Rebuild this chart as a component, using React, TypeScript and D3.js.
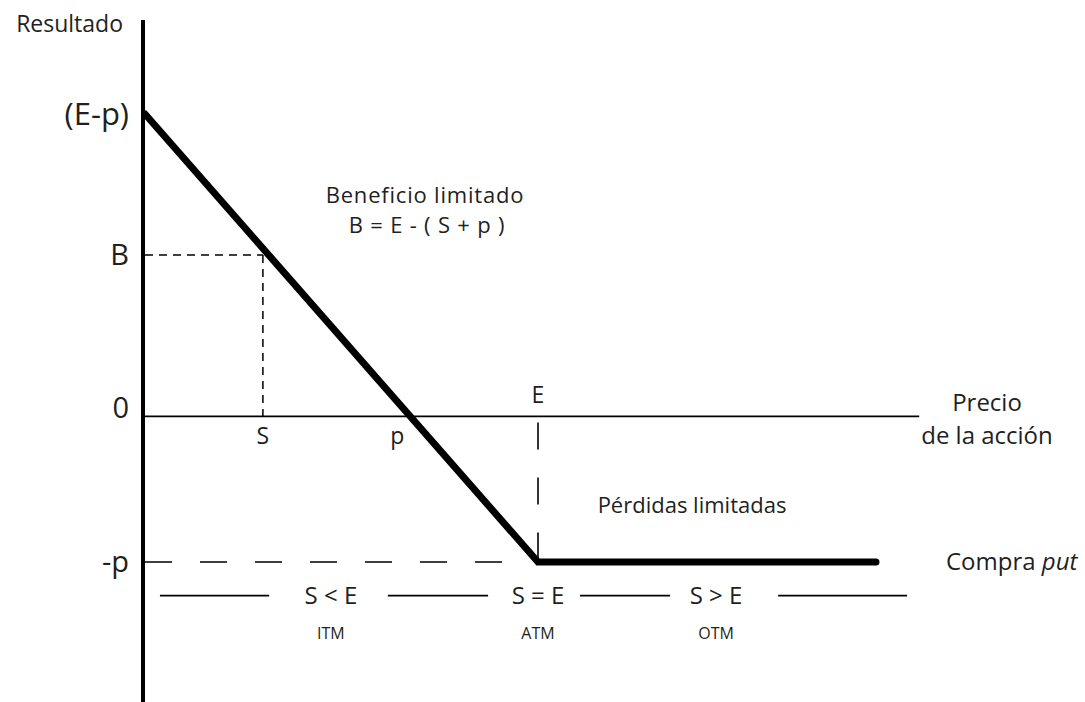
import React from 'react';
import * as d3 from 'd3';

// payoff of a long put, in abstract units (E = strike, p = premium)
const strike = 10;
const premium = 3.25;
const spotExample = 3.0;
const profitExample = 3.6;
const payoffEnd = 18.6;
const priceAxisEnd = 19.7;
const resultAxisTop = 8.85;
const resultAxisBottom = -6.4;

const yTickLabels = ['(E-p)', 'B', '0', '-p'];
const yTickValues = [strike - premium, profitExample, 0, -premium];

// row of moneyness regions below the chart
const regionLabels = ['S < E', 'S = E', 'S > E'];
const regionSubLabels = ['ITM', 'ATM', 'OTM'];
const regionCenters = [4.73, 10, 14.53];
const regionSegments = [[0.38, 3.16], [6.18, 8.73], [11.07, 13.36], [16.11, 19.39]];
const regionRowValue = -4.0;
const regionSubValue = -4.85;

const font = "'Open Sans', sans-serif";
const ink = '#231f20';

export default function App() {
  const width = 1085;
  const height = 702;

  const x = d3.scaleLinear().domain([0, strike]).range([145, 538]);
  const y = d3.scaleLinear().domain([-premium, strike - premium]).range([562, 114]);

  const payoff: [number, number][] = [
    [0, strike - premium],
    [strike, -premium],
    [payoffEnd, -premium],
  ];
  const line = d3.line<[number, number]>().x(d => x(d[0])).y(d => y(d[1]));

  const breakEven = strike - premium;

  return (
    <svg width={width} height={height} style={{ position: 'absolute', left: 0, top: 0, background: '#fff' }}>
      <rect width={width} height={height} fill="#fff" />

      {/* axes */}
      <line x1={x(0) - 2} x2={x(0) - 2} y1={y(resultAxisTop)} y2={y(resultAxisBottom)} stroke="#000" strokeWidth={4} />
      <line x1={x(0)} x2={x(priceAxisEnd)} y1={y(0)} y2={y(0)} stroke="#000" strokeWidth={1.6} />

      <text x={123} y={32} textAnchor="end" fontFamily={font} fontSize={23} fill={ink}>Resultado</text>

      {yTickLabels.map((t, i) => (
        <text key={t} x={129} y={y(yTickValues[i]) + (t === '0' ? -9 : 0)} dy="0.35em" textAnchor="end"
          fontFamily={font} fontSize={t === '(E-p)' ? 31 : 29} fill={ink}>{t}</text>
      ))}

      {/* guide lines */}
      <line x1={x(0)} x2={x(spotExample)} y1={y(profitExample)} y2={y(profitExample)} stroke="#000" strokeWidth={1.5} strokeDasharray="8,6" />
      <line x1={x(spotExample)} x2={x(spotExample)} y1={y(profitExample)} y2={y(0)} stroke="#000" strokeWidth={1.5} strokeDasharray="8,6" />
      <line x1={x(0)} x2={x(strike) - 34} y1={y(-premium)} y2={y(-premium)} stroke="#000" strokeWidth={1.6} strokeDasharray="27,28" />
      <line x1={x(strike)} x2={x(strike)} y1={y(0) + 6} y2={y(-premium)} stroke="#000" strokeWidth={1.6} strokeDasharray="27,28" />

      {/* payoff */}
      <path d={line(payoff) ?? ''} fill="none" stroke="#000" strokeWidth={7} strokeLinecap="round" strokeLinejoin="miter" />

      {/* price axis labels */}
      <text x={x(spotExample)} y={y(0) + 20} dy="0.35em" textAnchor="middle" fontFamily={font} fontSize={23} fill={ink}>S</text>
      <text x={x(breakEven) - 13} y={y(0) + 20} dy="0.35em" textAnchor="middle" fontFamily={font} fontSize={23} fill={ink}>p</text>
      <text x={x(strike)} y={y(0) - 21} dy="0.35em" textAnchor="middle" fontFamily={font} fontSize={23} fill={ink}>E</text>

      <text x={987} y={411} textAnchor="middle" fontFamily={font} fontSize={24} fill={ink}>Precio</text>
      <text x={987} y={444} textAnchor="middle" fontFamily={font} fontSize={24} fill={ink}>de la acción</text>
      <text x={946} y={y(-premium)} dy="0.35em" fontFamily={font} fontSize={24} fill={ink}>
        Compra <tspan fontStyle="italic">put</tspan>
      </text>

      {/* annotations */}
      <text x={425} y={203} textAnchor="middle" fontFamily={font} fontSize={22} letterSpacing={0.8} fill={ink}>Beneficio limitado</text>
      <text x={427} y={233} textAnchor="middle" fontFamily={font} fontSize={22} letterSpacing={0.8} fill={ink}>B = E - ( S + p )</text>
      <text x={692} y={505} dy="0.35em" textAnchor="middle" fontFamily={font} fontSize={22} fill={ink}>Pérdidas limitadas</text>

      {/* moneyness row */}
      {regionSegments.map((s, i) => (
        <line key={i} x1={x(s[0])} x2={x(s[1])} y1={y(regionRowValue)} y2={y(regionRowValue)} stroke="#000" strokeWidth={1.6} />
      ))}
      {regionLabels.map((t, i) => (
        <text key={t} x={x(regionCenters[i])} y={y(regionRowValue)} dy="0.35em" textAnchor="middle"
          fontFamily={font} fontSize={24} fill={ink}>{t}</text>
      ))}
      {regionSubLabels.map((t, i) => (
        <text key={t} x={x(regionCenters[i])} y={y(regionSubValue)} dy="0.35em" textAnchor="middle"
          fontFamily={font} fontSize={16} fill={ink}>{t}</text>
      ))}
    </svg>
  );
}
